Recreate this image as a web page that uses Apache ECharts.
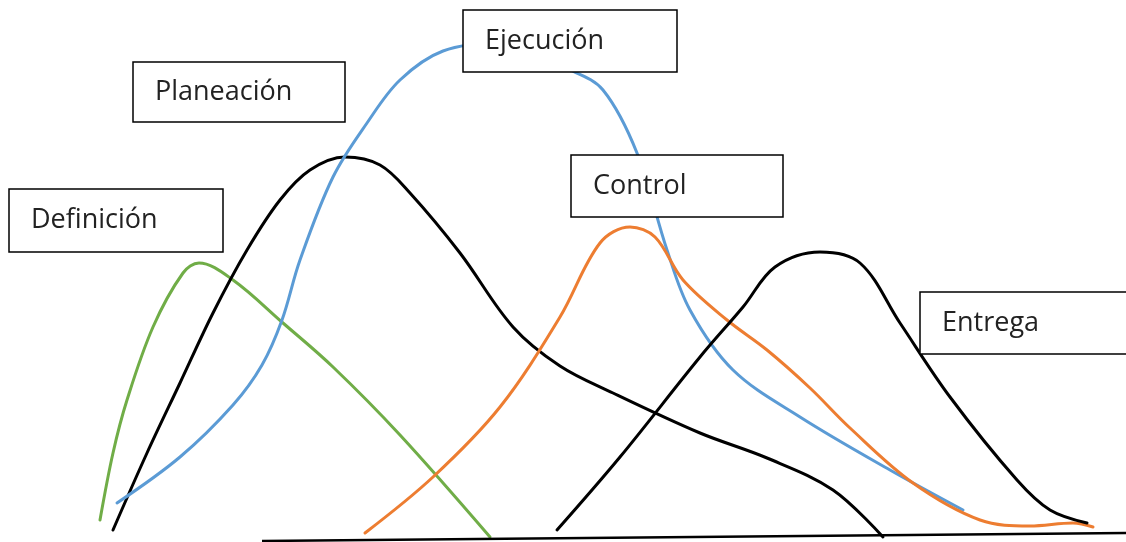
<!DOCTYPE html>
<html lang="es">
<head>
    <meta charset="UTF-8">
    <script src="https://cdn.jsdelivr.net/npm/echarts@6/dist/echarts.min.js"></script>
    <title>Fases del proyecto</title>
    <style>
        html, body { margin: 0; padding: 0; background: #ffffff; }
        #chart { width: 1126px; height: 542px; }
    </style>
</head>
<body>
    <div id="chart"></div>
    <script>
        // Curve points: [x, depth from top]
        var definicion = [[100,520],[113,453],[127,400],[153,327],[183,273],[199,263],[233,280],[283,323],[333,367],[400,435],[490,537]];
        var planeacion = [[113,530],[147,453],[180,383],[213,313],[247,250],[280,200],[310,170],[345,157],[380,165],[410,193],[460,253],[513,327],[560,366],[613,393],[700,433],[767,458],[833,490],[883,537]];
        var ejecucion = [[117,503],[180,457],[233,405],[262,365],[282,320],[300,260],[333,177],[367,123],[400,80],[443,51],[500,43],[570,70],[603,90],[637,153],[667,250],[690,310],[733,370],[800,417],[890,470],[963,510]];
        var control = [[365,533],[433,477],[500,407],[560,317],[600,243],[630,227],[655,237],[683,280],[727,320],[767,350],[810,388],[850,428],[913,483],[980,520],[1030,526],[1073,523],[1093,527]];
        var entrega = [[557,530],[620,457],[700,357],[743,307],[775,267],[820,252],[860,263],[900,323],[950,397],[1017,480],[1050,510],[1087,523]];
        var baseLine = [[262,541],[1126,533]];

        // Label boxes: name and its box corners in the same coordinates
        var labelNames = ['Definición', 'Planeación', 'Ejecución', 'Control', 'Entrega'];
        var labelBoxes = [[9,189,223,252],[133,62,345,122],[463,10,677,72],[571,155,783,217],[920,292,1130,354]];

        var chart = echarts.init(document.getElementById('chart'));

        function curve(name, data, color) {
            return {
                name: name,
                type: 'line',
                data: data,
                smooth: 0.35,
                symbol: 'none',
                silent: true,
                z: 2,
                lineStyle: { color: color, width: 3, cap: 'round' }
            };
        }

        chart.setOption({
            animation: false,
            backgroundColor: '#ffffff',
            grid: { left: 0, right: 0, top: 0, bottom: 0 },
            xAxis: { type: 'value', min: 0, max: 1126, show: false },
            yAxis: { type: 'value', min: 0, max: 542, inverse: true, show: false },
            series: [
                curve('Definición', definicion, '#70ad47'),
                curve('Planeación', planeacion, '#000000'),
                curve('Ejecución', ejecucion, '#5b9bd5'),
                curve('Control', control, '#ed7d31'),
                curve('Entrega', entrega, '#000000'),
                {
                    type: 'line',
                    data: baseLine,
                    symbol: 'none',
                    silent: true,
                    lineStyle: { color: '#000000', width: 2.5 }
                }
            ]
        });

        // Boxes placed through the chart's own scales
        var boxes = labelNames.map(function (name, i) {
            var b = labelBoxes[i];
            var p0 = chart.convertToPixel({ gridIndex: 0 }, [b[0], b[1]]);
            var p1 = chart.convertToPixel({ gridIndex: 0 }, [b[2], b[3]]);
            return {
                type: 'group',
                children: [
                    {
                        type: 'rect',
                        z: 100,
                        shape: { x: p0[0], y: p0[1], width: p1[0] - p0[0], height: p1[1] - p0[1] },
                        style: { fill: '#ffffff', stroke: '#000000', lineWidth: 1.5 }
                    },
                    {
                        type: 'text',
                        z: 101,
                        x: p0[0] + 22,
                        y: (p0[1] + p1[1]) / 2,
                        style: {
                            text: name,
                            fill: '#222222',
                            font: '27px "Open Sans", sans-serif',
                            verticalAlign: 'middle',
                            align: 'left'
                        }
                    }
                ]
            };
        });
        chart.setOption({ graphic: boxes });
    </script>
</body>
</html>
